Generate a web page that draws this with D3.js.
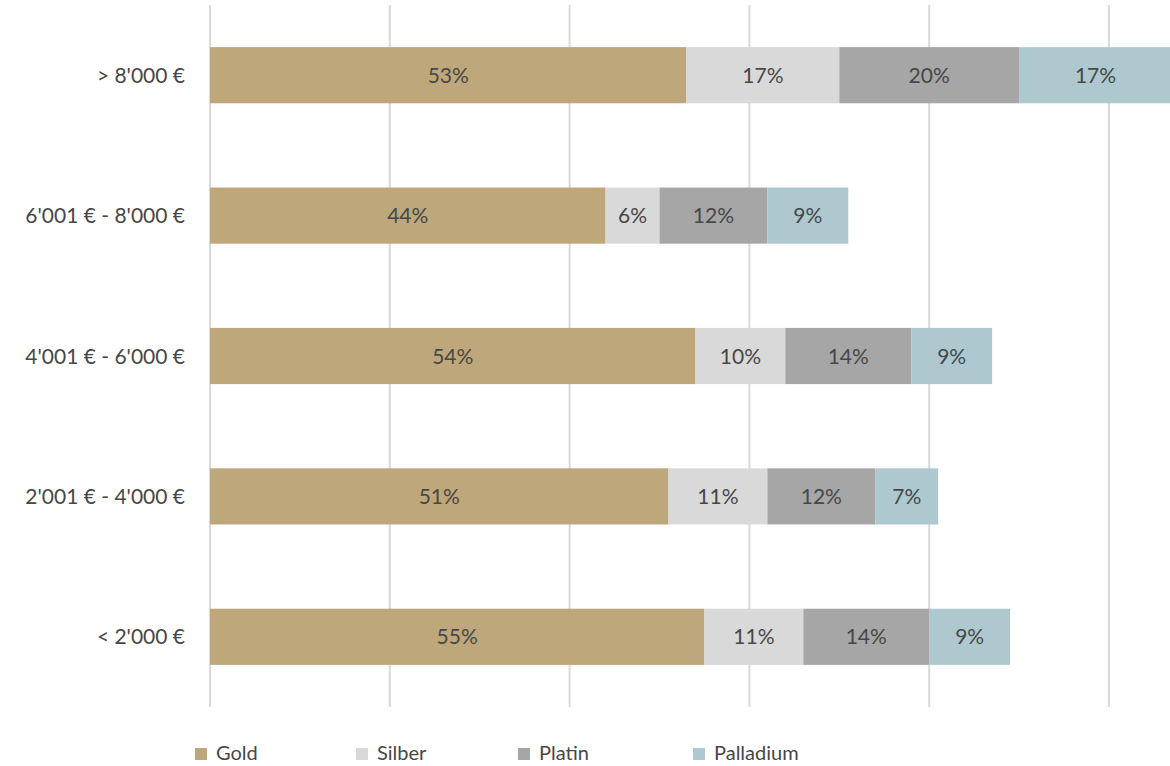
<!DOCTYPE html>
<html>
<head>
<meta charset="utf-8">
<script src="https://cdn.jsdelivr.net/npm/d3@7"></script>
<style>
  html, body { margin: 0; padding: 0; background: #fff; }
  svg { display: block; font-family: "Lato", "Open Sans", sans-serif; }
</style>
</head>
<body>
<svg id="chart" width="1170" height="766"></svg>
<script>
// Income brackets (top to bottom) and metal shares in percent
const categories = ["> 8'000 €", "6'001 € - 8'000 €", "4'001 € - 6'000 €", "2'001 € - 4'000 €", "< 2'000 €"];
const seriesNames = ["Gold", "Silber", "Platin", "Palladium"];
const gold      = [53, 44, 54, 51, 55];
const silber    = [17, 6, 10, 11, 11];
const platin    = [20, 12, 14, 12, 14];
const palladium = [17, 9, 9, 7, 9];
const tickValues = [0, 20, 40, 60, 80, 100];
const colors = ["#BEA77B", "#D9D9D9", "#A6A6A6", "#ADC9CF"];

const seriesValues = [gold, silber, platin, palladium];
const rows = categories.map((c, i) => {
  const r = { category: c };
  seriesNames.forEach((s, k) => r[s] = seriesValues[k][i]);
  return r;
});

const svg = d3.select("#chart");
const margin = { left: 210, right: 0, top: 5, bottom: 59 };
const plotW = 899; // width covering 0..100
const x = d3.scaleLinear().domain([0, 100]).range([margin.left, margin.left + plotW]);
const y = d3.scaleBand().domain(categories).range([5, 707]).paddingInner(0.6).paddingOuter(0.3);
const textColor = "#474747";

// vertical gridlines
svg.append("g")
  .selectAll("line")
  .data(tickValues)
  .join("line")
  .attr("x1", d => x(d)).attr("x2", d => x(d))
  .attr("y1", 5).attr("y2", 707)
  .attr("stroke", "#D9D9D9")
  .attr("stroke-width", 2);

// stacked bars
const stacked = d3.stack().keys(seriesNames)(rows);
const layers = svg.append("g").selectAll("g")
  .data(stacked)
  .join("g")
  .attr("fill", (d, i) => colors[i]);

layers.selectAll("rect")
  .data(d => d.map(p => ({ p, key: d.key })))
  .join("rect")
  .attr("x", d => x(d.p[0]))
  .attr("y", d => y(d.p.data.category))
  .attr("width", d => x(d.p[1]) - x(d.p[0]))
  .attr("height", y.bandwidth());

// value labels
layers.selectAll("text")
  .data(d => d.map(p => ({ p, key: d.key })))
  .join("text")
  .attr("x", d => (x(d.p[0]) + x(d.p[1])) / 2)
  .attr("y", d => y(d.p.data.category) + y.bandwidth() / 2)
  .attr("dy", "0.36em")
  .attr("text-anchor", "middle")
  .attr("fill", textColor)
  .style("font-size", "21px")
  .text(d => d.p.data[d.key] + "%");

// category axis labels
svg.append("g")
  .selectAll("text")
  .data(categories)
  .join("text")
  .attr("x", 185)
  .attr("y", d => y(d) + y.bandwidth() / 2)
  .attr("dy", "0.36em")
  .attr("text-anchor", "end")
  .attr("fill", textColor)
  .style("font-size", "21px")
  .text(d => d);

// legend
const legendX = [195, 356, 518, 693];
const legend = svg.append("g").selectAll("g")
  .data(seriesNames)
  .join("g")
  .attr("transform", (d, i) => `translate(${legendX[i]},753)`);
legend.append("rect")
  .attr("x", 0).attr("y", -5)
  .attr("width", 12).attr("height", 12)
  .attr("fill", (d, i) => colors[i]);
legend.append("text")
  .attr("x", 21).attr("y", 0)
  .attr("dy", "0.36em")
  .attr("fill", textColor)
  .style("font-size", "20px")
  .text(d => d);
</script>
</body>
</html>
